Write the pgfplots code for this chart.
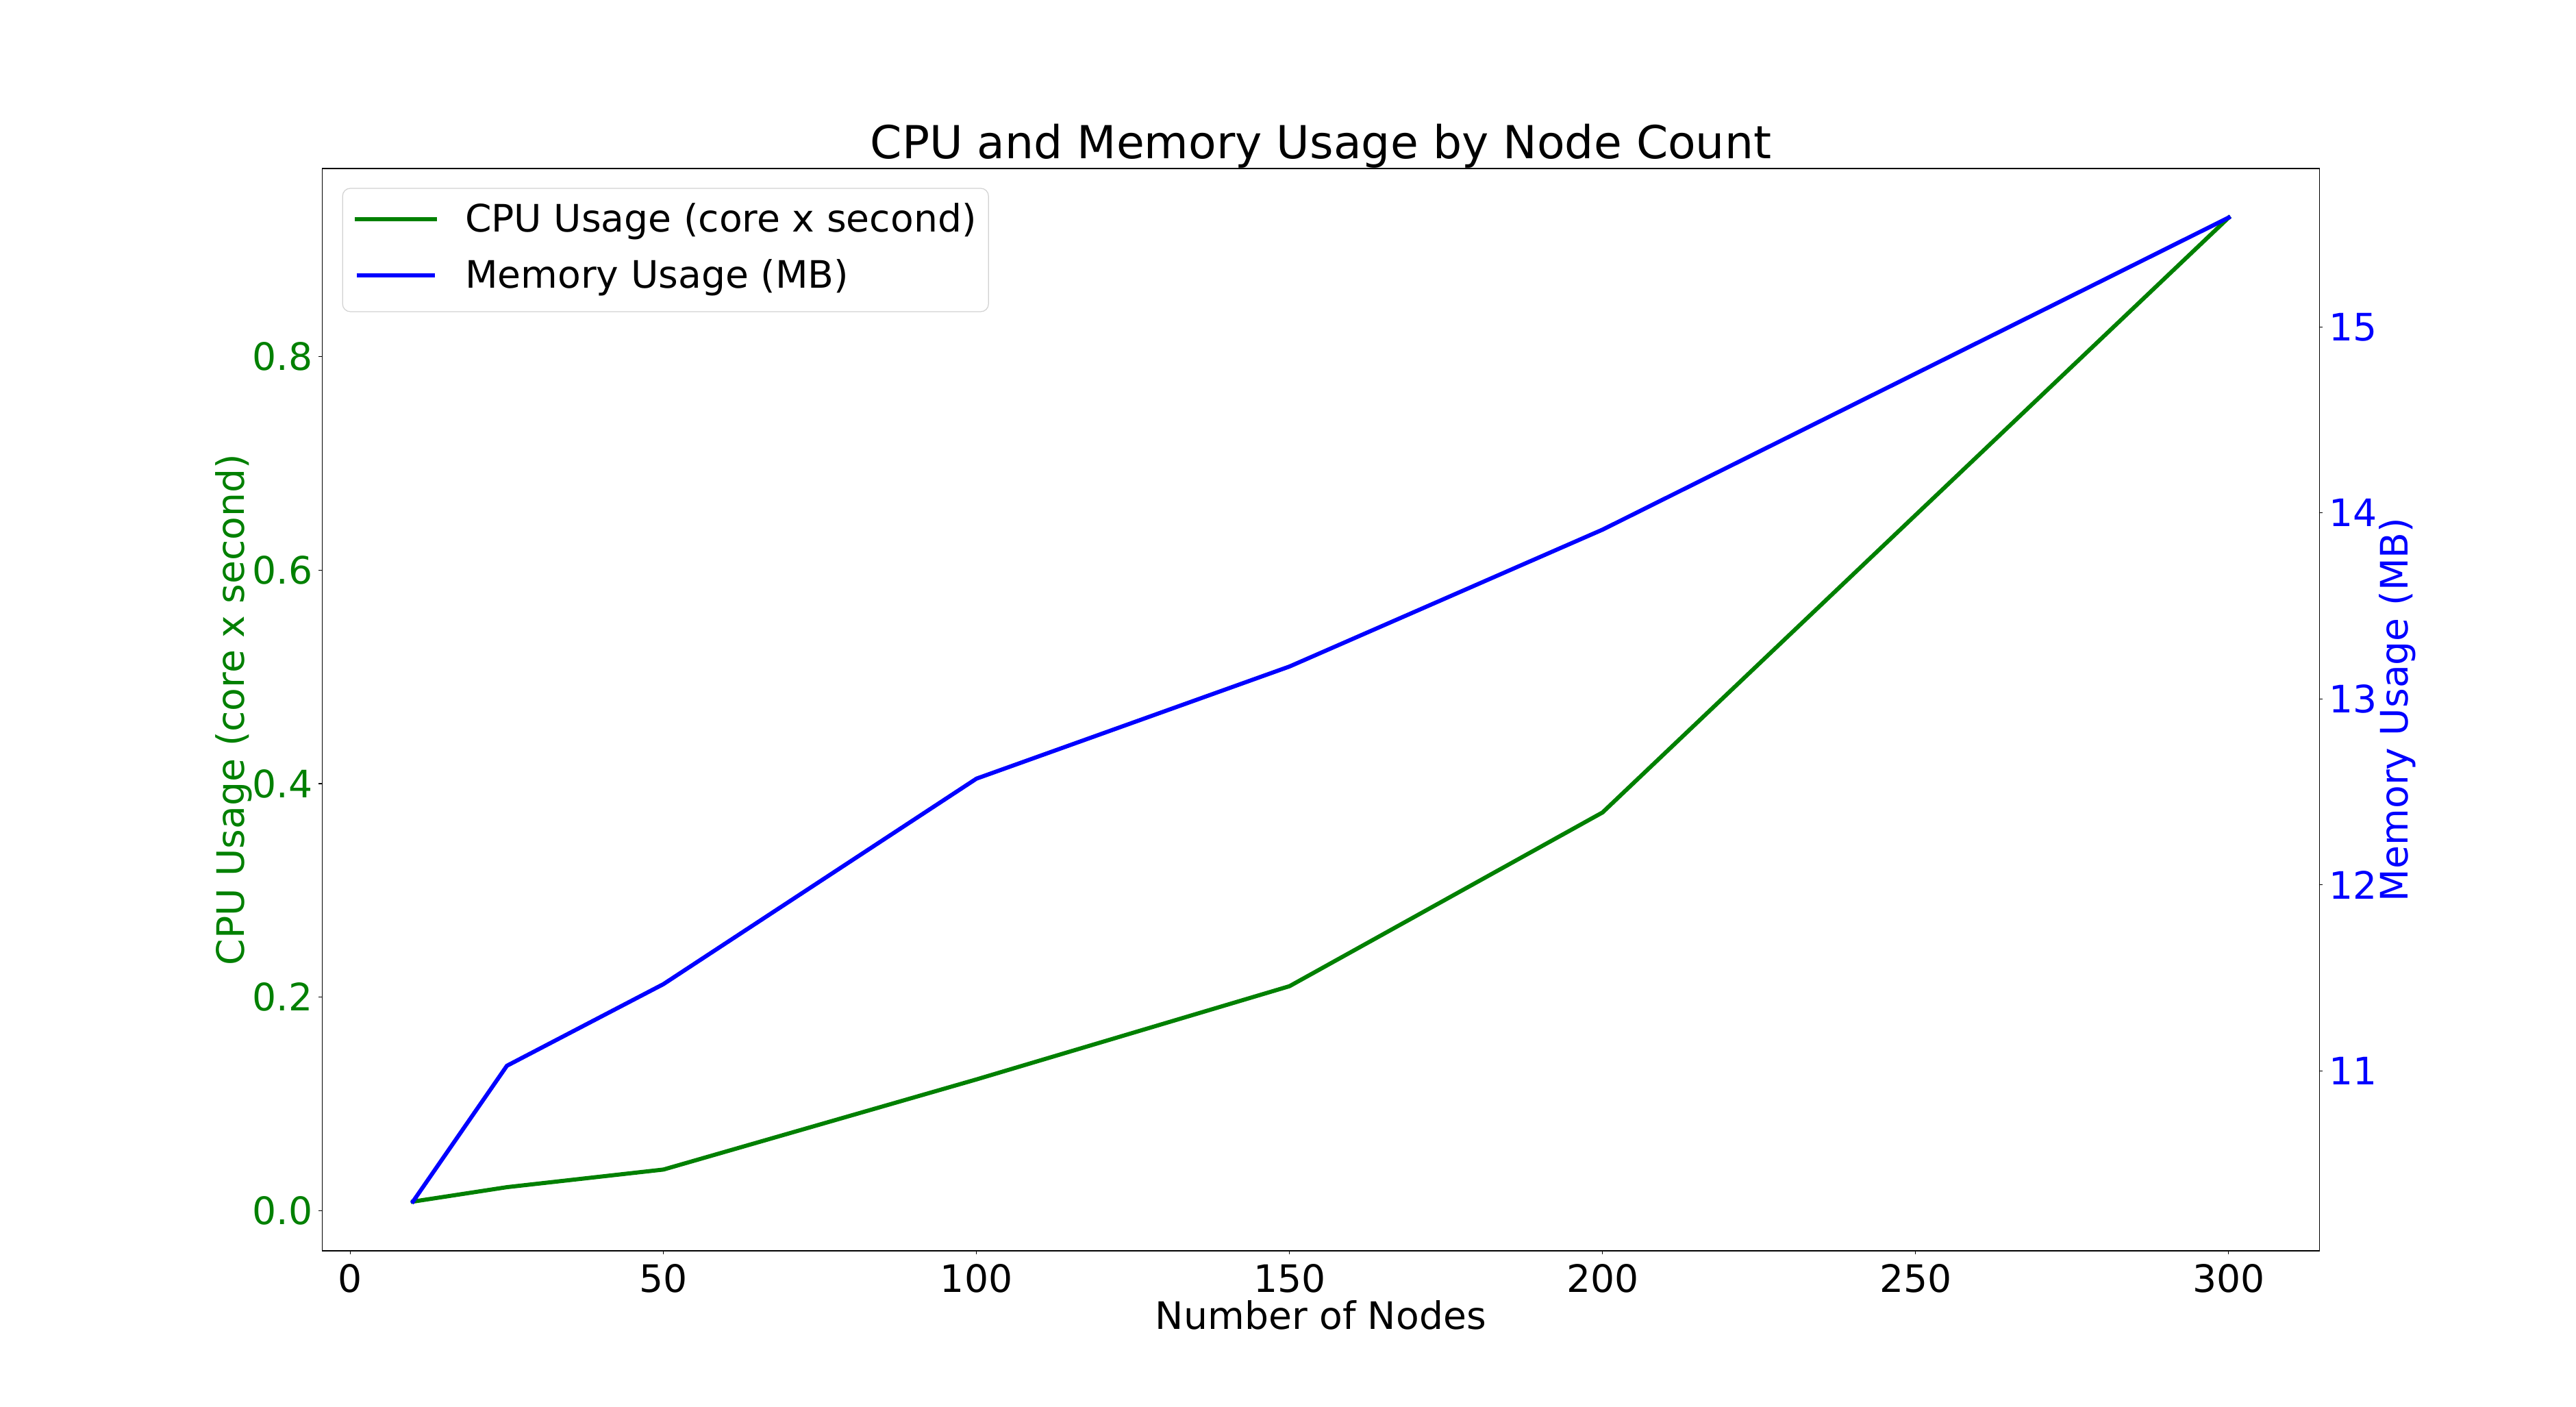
\documentclass[border=0pt]{standalone}
\usepackage{fontspec}
\setmainfont{DejaVu Sans}
\usepackage{pgfplots}
\pgfplotsset{compat=1.18}
\definecolor{mplgreen}{RGB}{0,128,0}
\definecolor{mplblue}{RGB}{0,0,255}

\pgfplotsset{
  twinbase/.style={
    width=729bp, height=395bp, scale only axis,
    at={(117.6bp,57bp)}, anchor=south west,
    xmin=-4.5, xmax=314.5,
    axis line style={line width=0.3bp, black},
    every tick/.style={black, line width=0.3bp},
    major tick length=1.25bp,
    tick align=outside,
    /pgf/number format/assume math mode=true,
    tick label style={font=\fontsize{13.8bp}{16bp}\selectfont, inner sep=0pt},
    label style={font=\fontsize{13.8bp}{16bp}\selectfont},
  },
  every axis title shift=0pt,
}

\begin{document}
\begin{tikzpicture}
\path[use as bounding box] (0,0) rectangle (940.25bp,513.5bp);

\begin{axis}[twinbase,
  ymin=-0.0375, ymax=0.976,
  xtick={0,50,100,150,200,250,300},
  ytick={0,0.2,0.4,0.6,0.8},
  xtick pos=bottom, ytick pos=left,
  yticklabel style={text=mplgreen, anchor=east, xshift=-2.1bp,
    /pgf/number format/.cd, fixed, fixed zerofill, precision=1},
  xticklabel style={anchor=north, yshift=-3.5bp},
  xlabel={Number of Nodes},
  xlabel style={at={(rel axis cs:0.5,0)}, anchor=base, yshift=-28.5bp},
  ylabel={CPU Usage (core x second)},
  ylabel style={at={([xshift=-28.6bp]rel axis cs:0,0.5)}, anchor=base, text=mplgreen},
  title={CPU and Memory Usage by Node Count},
  title style={at={(rel axis cs:0.5,1)}, anchor=base, yshift=3.6bp,
    font=\fontsize{16.6bp}{20bp}\selectfont},
  legend style={at={(0,1)}, anchor=north west, xshift=7.3bp, yshift=-7.1bp,
    draw=black!18, line width=0.3bp, rounded corners=2.8bp, fill=white,
    inner xsep=4.4bp, inner ysep=5.5bp, row sep=7bp,
    font=\fontsize{13.8bp}{16bp}\selectfont,
    cells={anchor=base west},
    nodes={inner sep=0pt, text height=10.5bp, text depth=3bp},
    /tikz/every odd column/.append style={column sep=10.2bp}},
  legend image code/.code={\draw[#1] (0bp,4.8bp) -- (28.6bp,4.8bp);},
]
\addplot[mplgreen, line width=1.5bp, line join=round, line cap=rect] coordinates {
  (10,0.0086) (25,0.0221) (50,0.0386) (100,0.123) (150,0.2103) (200,0.373) (300,0.930)
};
\addlegendentry{CPU Usage (core x second)}
\addlegendimage{mplblue, line width=1.5bp}
\addlegendentry{Memory Usage (MB)}
\end{axis}

\begin{axis}[twinbase,
  ymin=10.032, ymax=15.852,
  axis x line=none, axis y line*=right,
  ytick={11,12,13,14,15},
  yticklabel style={text=mplblue, anchor=west, xshift=2bp},
  ylabel={Memory Usage (MB)},
  ylabel style={at={([xshift=32.2bp]rel axis cs:1,0.5)}, anchor=base, text=mplblue},
]
\addplot[mplblue, line width=1.5bp, line join=round, line cap=rect] coordinates {
  (10,10.297) (25,11.027) (50,11.466) (100,12.571) (150,13.174) (200,13.910) (300,15.588)
};
\end{axis}
\end{tikzpicture}
\end{document}
